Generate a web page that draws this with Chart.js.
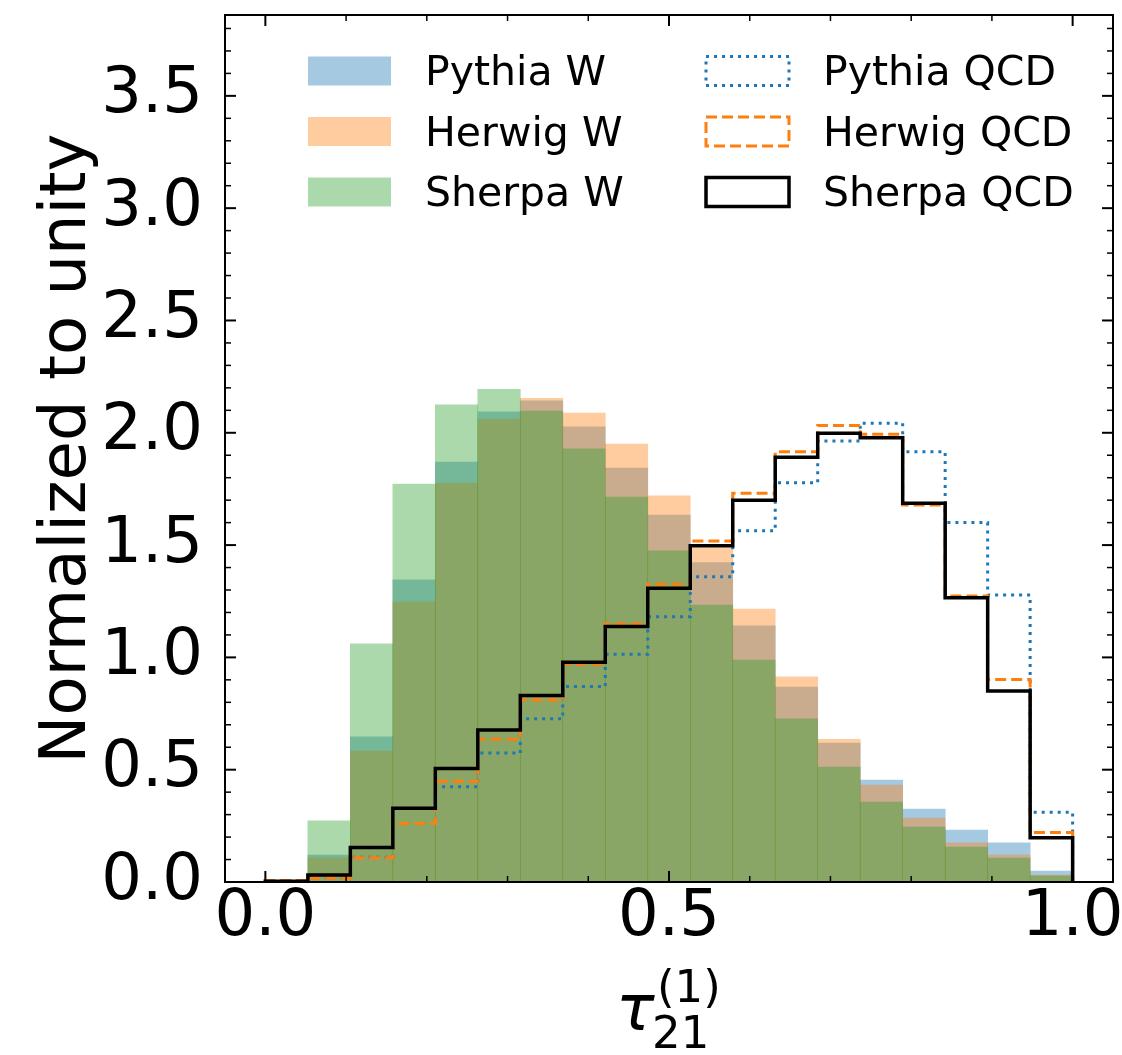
<!DOCTYPE html>
<html>
<head>
<meta charset="utf-8">
<title>tau21 distributions</title>
<script src="https://cdn.jsdelivr.net/npm/chart.js@4.4.1/dist/chart.umd.min.js"></script>
<style>
    html, body { margin: 0; padding: 0; background: #fff; }
    #wrap { width: 1122px; height: 1055px; }
</style>
</head>
<body>
<div id="wrap"><canvas id="chart"></canvas></div>
<script>
// 19 equal bins between 0 and 1
const binEdges = Array.from({ length: 20 }, (_, k) => k / 19);

// W jets (filled histograms)
const pythiaW = [0, 0.120, 0.646, 1.345, 1.870, 2.093, 2.142, 2.026, 1.843, 1.634, 1.422, 1.140, 0.868, 0.619, 0.454, 0.325, 0.231, 0.174, 0.049];
const herwigW = [0, 0.108, 0.583, 1.247, 1.776, 2.061, 2.153, 2.088, 1.950, 1.719, 1.488, 1.215, 0.913, 0.635, 0.432, 0.285, 0.174, 0.120, 0.031];
const sherpaW = [0, 0.272, 1.060, 1.772, 2.124, 2.193, 2.097, 1.928, 1.714, 1.474, 1.233, 0.988, 0.726, 0.512, 0.356, 0.245, 0.156, 0.107, 0.027];

// QCD jets (step outlines)
const pythiaQCD = [0.004, 0.020, 0.110, 0.260, 0.424, 0.574, 0.727, 0.870, 1.014, 1.181, 1.359, 1.564, 1.778, 1.963, 2.042, 1.916, 1.600, 1.278, 0.310];
const herwigQCD = [0.007, 0.018, 0.108, 0.261, 0.448, 0.635, 0.810, 0.970, 1.149, 1.327, 1.518, 1.731, 1.916, 2.032, 1.993, 1.679, 1.273, 0.902, 0.220];
const sherpaQCD = [0.003, 0.031, 0.154, 0.328, 0.505, 0.677, 0.830, 0.978, 1.137, 1.308, 1.497, 1.700, 1.891, 1.998, 1.978, 1.686, 1.266, 0.850, 0.197];

// axes
const xTicks = [0.0, 0.5, 1.0];
const yTicks = [0.0, 0.5, 1.0, 1.5, 2.0, 2.5, 3.0, 3.5];
const xRange = [-0.05, 1.05];
const yRange = [0, 3.86];

const FONT = '"DejaVu Sans", "Liberation Sans", sans-serif';

/**
 * Bar points at bin centres
 */
function barPoints(values) {
    return values.map((v, i) => ({ x: (binEdges[i] + binEdges[i + 1]) / 2, y: v }));
}

/**
 * Points for a step outline (matplotlib histtype='step')
 */
function stepPoints(values) {
    const last = binEdges.length - 1;
    const pts = [{ x: binEdges[0], y: 0 }];
    values.forEach((v, i) => pts.push({ x: binEdges[i], y: v }));
    pts.push({ x: binEdges[last], y: values[values.length - 1] });
    pts.push({ x: binEdges[last], y: 0 });
    return pts;
}

function filledSet(label, values, color, order) {
    return {
        type: 'bar',
        label: label,
        data: barPoints(values),
        backgroundColor: color,
        borderWidth: 0,
        grouped: false,
        barPercentage: 1,
        categoryPercentage: 1,
        order: order
    };
}

function stepSet(label, values, color, dash, width, order) {
    return {
        type: 'line',
        label: label,
        data: stepPoints(values),
        borderColor: color,
        backgroundColor: 'transparent',
        borderWidth: width,
        borderDash: dash,
        stepped: 'before',
        pointRadius: 0,
        fill: false,
        order: order
    };
}

// frame with inward ticks on all four sides
const frameAndTicks = {
    id: 'frameAndTicks',
    afterDatasetsDraw(chart) {
        const { ctx, chartArea: a, scales: { x, y } } = chart;
        ctx.save();
        ctx.strokeStyle = '#000';

        function tick(px, py, dx, dy, w) {
            ctx.lineWidth = w;
            ctx.beginPath();
            ctx.moveTo(px, py);
            ctx.lineTo(px + dx, py + dy);
            ctx.stroke();
        }

        for (let k = 1; k <= 10; k++) {
            const v = k / 10;
            if (xTicks.includes(v)) continue;
            const px = x.getPixelForValue(v);
            tick(px, a.bottom, 0, -6, 1.5);
            tick(px, a.top, 0, 6, 1.5);
        }
        xTicks.forEach(v => {
            const px = x.getPixelForValue(v);
            tick(px, a.bottom, 0, -11, 2);
            tick(px, a.top, 0, 11, 2);
        });

        for (let k = 1; k <= 38; k++) {
            if (k % 5 === 0) continue;
            const py = y.getPixelForValue(k / 10);
            tick(a.left, py, 6, 0, 1.5);
            tick(a.right, py, -6, 0, 1.5);
        }
        yTicks.forEach(v => {
            const py = y.getPixelForValue(v);
            tick(a.left, py, 11, 0, 2);
            tick(a.right, py, -11, 0, 2);
        });

        ctx.lineWidth = 2;
        ctx.setLineDash([]);
        ctx.strokeRect(a.left, a.top, a.right - a.left, a.bottom - a.top);
        ctx.restore();
    }
};

// two column legend inside the axes, plus the x label with sub/superscript
const legendAndLabel = {
    id: 'legendAndLabel',
    afterDraw(chart) {
        const { ctx, chartArea: a } = chart;
        const sets = chart.data.datasets;
        ctx.save();

        const colX = [a.left + 83, a.left + 481];
        const rowY = [a.top + 56, a.top + 116.5, a.top + 177];
        const boxW = 83, boxH = 29;

        sets.forEach((ds, i) => {
            const col = Math.floor(i / 3);
            const row = i % 3;
            const bx = colX[col];
            const by = rowY[row] - boxH / 2;
            if (ds.type === 'bar') {
                ctx.fillStyle = ds.backgroundColor;
                ctx.fillRect(bx, by, boxW, boxH);
            } else {
                ctx.strokeStyle = ds.borderColor;
                ctx.lineWidth = ds.borderWidth;
                ctx.setLineDash(ds.borderDash || []);
                ctx.strokeRect(bx, by, boxW, boxH);
                ctx.setLineDash([]);
            }
            ctx.fillStyle = '#000';
            ctx.font = '41px ' + FONT;
            ctx.textAlign = 'left';
            ctx.textBaseline = 'alphabetic';
            ctx.fillText(ds.label, bx + 117, rowY[row] + 14);
        });

        // x label: tau_21^(1)
        const cx = (a.left + a.right) / 2;
        ctx.fillStyle = '#000';
        ctx.textAlign = 'left';
        ctx.textBaseline = 'alphabetic';
        ctx.font = 'italic 64px ' + FONT;
        ctx.fillText('τ', cx - 53, a.bottom + 148);
        ctx.font = '45px ' + FONT;
        ctx.fillText('(1)', cx - 12, a.bottom + 120);
        ctx.fillText('21', cx - 17, a.bottom + 166);

        ctx.restore();
    }
};

const chart = new Chart(document.getElementById('chart'), {
    type: 'bar',
    data: {
        datasets: [
            filledSet('Pythia W', pythiaW, 'rgba(31, 119, 180, 0.4)', 6),
            filledSet('Herwig W', herwigW, 'rgba(255, 127, 14, 0.4)', 5),
            filledSet('Sherpa W', sherpaW, 'rgba(44, 160, 44, 0.4)', 4),
            stepSet('Pythia QCD', pythiaQCD, '#1f77b4', [3, 5], 3, 3),
            stepSet('Herwig QCD', herwigQCD, '#ff7f0e', [11, 5], 3, 2),
            stepSet('Sherpa QCD', sherpaQCD, '#000000', [], 3.5, 1)
        ]
    },
    options: {
        responsive: true,
        maintainAspectRatio: false,
        animation: false,
        devicePixelRatio: 1,
        layout: {
            padding: { left: 0, right: 9, top: 15, bottom: 0 }
        },
        plugins: {
            legend: { display: false },
            tooltip: { enabled: false }
        },
        scales: {
            x: {
                type: 'linear',
                offset: false,
                min: xRange[0],
                max: xRange[1],
                grid: { display: false, offset: false },
                border: { display: false },
                afterBuildTicks: scale => {
                    scale.ticks = xTicks.map(v => ({ value: v }));
                },
                afterFit: scale => {
                    scale.height = 173;
                    scale.paddingLeft = 0;
                    scale.paddingRight = 0;
                },
                ticks: {
                    color: '#000',
                    padding: -10,
                    maxRotation: 0,
                    font: { family: FONT, size: 64 },
                    callback: v => v.toFixed(1)
                }
            },
            y: {
                min: yRange[0],
                max: yRange[1],
                grid: { display: false },
                border: { display: false },
                afterBuildTicks: scale => {
                    scale.ticks = yTicks.map(v => ({ value: v }));
                },
                afterFit: scale => {
                    scale.width = 225;
                    scale.paddingTop = 0;
                    scale.paddingBottom = 0;
                },
                ticks: {
                    color: '#000',
                    padding: 14,
                    font: { family: FONT, size: 64 },
                    callback: v => v.toFixed(1)
                },
                title: {
                    display: true,
                    text: 'Normalized to unity',
                    color: '#000',
                    font: { family: FONT, size: 64 },
                    padding: { top: 30, bottom: 0 }
                }
            }
        }
    },
    plugins: [frameAndTicks, legendAndLabel]
});
</script>
</body>
</html>
